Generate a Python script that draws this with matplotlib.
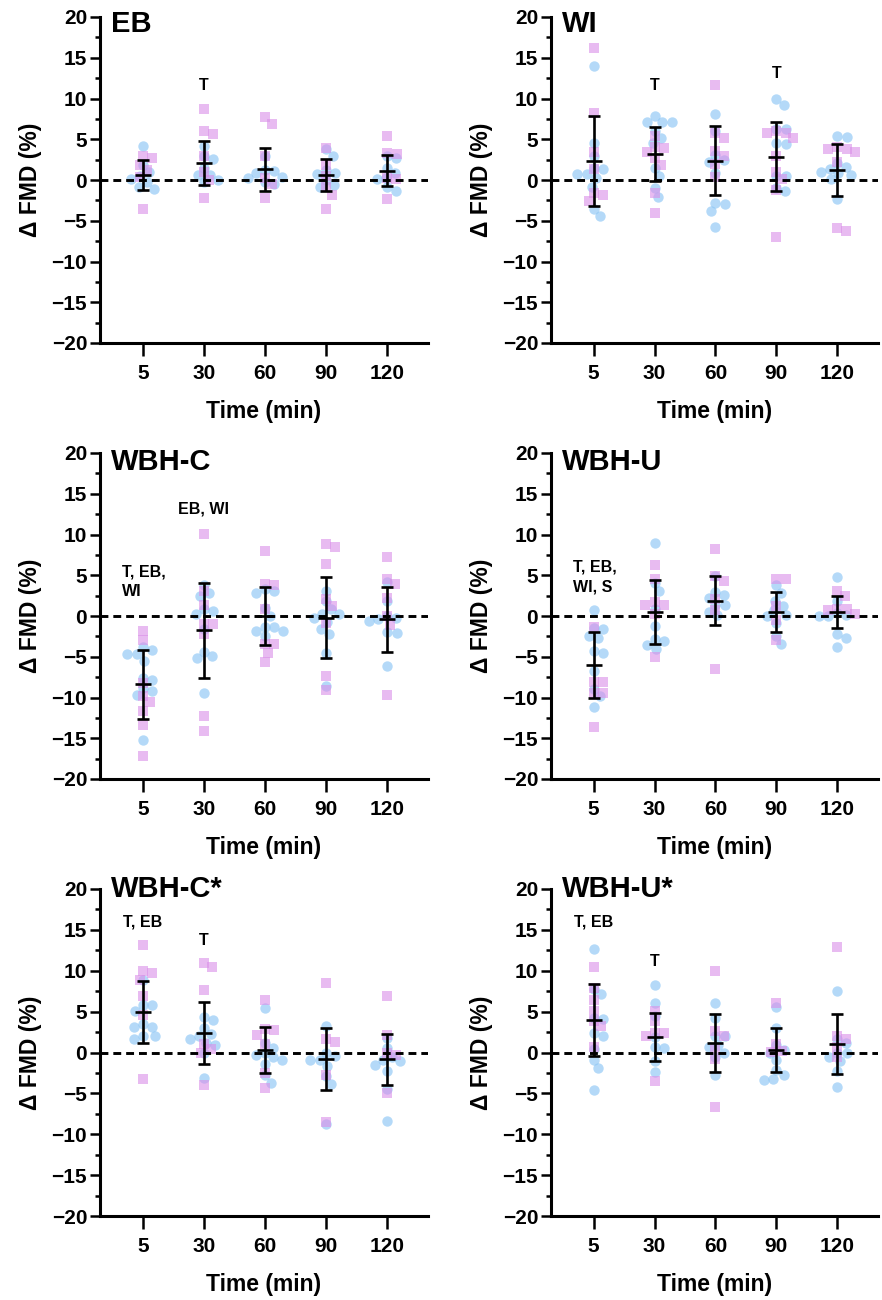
import numpy as np
import matplotlib
matplotlib.use('Agg')
import matplotlib.pyplot as plt
from matplotlib.ticker import MultipleLocator

plt.rcParams['font.family'] = ['Liberation Sans', 'DejaVu Sans']
plt.rcParams['font.weight'] = 'bold'

# time points (categories)
times = ['5', '30', '60', '90', '120']

# panel names
panels = ['EB', 'WI', 'WBH-C', 'WBH-U', 'WBH-C*', 'WBH-U*']

# individual values, blue circles, per time point
eb_circ = [[4.2, 1.9, 1.0, 0.5, 0.1, -0.3, -0.9, -1.1],
           [4.2, 3.0, 2.6, 1.5, 0.6, 0.6, 0.0, -0.3],
           [2.9, 1.2, 1.1, 0.9, 0.4, 0.2, -0.5, -0.3],
           [3.8, 3.0, 1.2, 0.9, 0.7, 0.0, -0.6, -0.9],
           [2.7, 2.9, 1.5, 0.8, 0.3, 0.1, -0.9, -1.3]]
wi_circ = [[14.0, 4.6, 2.9, 1.4, 1.5, 0.7, 0.7, 0.3, -0.8, -3.5, -4.4],
           [7.8, 7.1, 7.1, 7.1, 6.0, 5.2, 4.6, 1.5, 0.5, -1.0, -2.1],
           [8.1, 6.0, 3.1, 2.5, 2.2, 0.9, -2.8, -3.0, -3.8, -5.8],
           [9.9, 9.2, 6.2, 6.2, 4.4, 4.6, 0.5, 0.5, -1.0, -1.3],
           [5.4, 5.3, 2.1, 1.6, 1.4, 1.0, 0.9, 0.6, 0.1, -2.3]]
whc_circ = [[-3.8, -4.2, -4.7, -4.7, -5.5, -7.6, -7.8, -8.8, -9.2, -9.7, -15.2],
            [3.8, 2.8, 2.4, 0.9, 0.6, 0.3, -1.6, -4.4, -4.9, -5.2, -9.4],
            [3.3, 3.1, 2.8, 1.0, 0.0, -1.3, -1.3, -1.8, -1.8, -2.5],
            [3.1, 1.8, 0.8, 0.3, 0.2, -0.3, -0.7, -1.6, -2.2, -4.5, -8.6],
            [4.2, 1.8, 0.0, -0.3, -0.4, -0.6, -2.0, -2.1, -6.1]]
whu_circ = [[0.7, -1.5, -1.6, -2.5, -2.7, -4.3, -4.6, -6.8, -8.9, -9.8, -11.2],
            [9.0, 4.1, 3.1, 0.9, -1.2, -2.8, -3.1, -3.5, -4.0],
            [4.9, 3.0, 2.6, 2.2, 1.3, 1.3, 0.5, 0.1],
            [3.8, 2.8, 1.9, 1.2, 0.7, 0.1, 0.0, -0.8, -2.4, -3.4],
            [4.8, 1.8, 0.4, 0.1, 0.0, 0.0, -2.2, -2.7, -3.8]]
whcs_circ = [[8.9, 5.8, 5.8, 5.1, 3.5, 3.1, 3.1, 2.0, 2.0, 1.6],
             [4.3, 4.0, 3.0, 2.3, 2.0, 1.7, 1.2, 0.9, 0.0, -3.1],
             [5.5, 1.2, 0.6, 0.0, -0.3, -0.6, -0.9, -1.4, -2.8, -3.7],
             [3.2, 0.0, -0.4, -0.9, -0.9, -1.7, -2.9, -3.9, -8.7],
             [1.8, 0.5, -0.5, -0.9, -1.1, -1.5, -2.3, -4.5, -8.4]]
whus_circ = [[12.6, 7.8, 7.1, 4.2, 4.1, 2.4, 2.0, 0.4, -0.9, -1.9, -4.6],
             [8.2, 6.0, 4.5, 1.9, 0.7, 0.5, -1.1, -2.4],
             [6.1, 4.2, 2.0, 2.0, 0.9, 0.7, 0.0, -0.6, -2.8],
             [5.6, 3.0, 0.9, 0.3, 0.0, -0.9, -2.1, -2.7, -3.2, -3.4],
             [7.5, 1.6, 1.2, 0.0, 0.0, -0.5, -1.1, -2.3, -4.2]]

# individual values, pink squares, per time point
eb_sq = [[3.0, 2.7, 1.9, 1.2, 0.4, -3.6],
         [8.7, 6.0, 5.6, 2.9, 1.0, 0.0, -2.2],
         [7.7, 6.9, 3.0, 0.3, -0.5, -2.2],
         [3.9, 1.8, 0.5, -0.9, -1.8, -3.6],
         [5.4, 3.3, 3.2, 0.3, 0.1, -2.3]]
wi_sq = [[16.2, 8.2, 3.4, 1.3, -1.6, -1.8, -2.6],
         [5.4, 4.1, 3.9, 3.4, 2.7, 1.8, -1.6, -4.0],
         [11.6, 5.8, 5.2, 3.6, 3.0, 2.0, 0.4],
         [6.0, 5.8, 5.8, 5.1, 2.9, 1.0, 0.1, -1.2, -7.0],
         [4.0, 3.8, 3.8, 3.4, 2.2, -5.9, -6.3]]
whc_sq = [[-1.8, -3.0, -8.2, -9.8, -10.6, -11.7, -13.4, -17.2],
          [10.1, 3.1, 1.4, -1.0, -1.0, -2.2, -12.3, -14.1],
          [8.0, 3.9, 3.8, 0.8, -3.4, -3.4, -4.5, -5.7],
          [8.8, 8.5, 6.4, 2.1, 1.2, -0.8, -7.4, -9.1],
          [7.3, 4.6, 3.9, 2.2, 0.0, -1.1, -9.7]]
whu_sq = [[-1.4, -8.1, -8.1, -9.4, -9.4, -13.6],
          [6.2, 4.5, 1.7, 1.4, 1.4, 0.2, -5.0],
          [8.2, 4.9, 4.3, 2.1, 0.7, -6.5],
          [4.6, 4.6, 1.2, -0.5, -2.9],
          [3.1, 2.5, 0.9, 0.8, 0.7, 0.3]]
whcs_sq = [[13.2, 10.0, 9.7, 8.9, 6.9, 4.6, -3.3],
           [11.0, 10.5, 7.7, 1.1, 0.4, 0.0, -4.0],
           [6.4, 2.9, 2.8, 2.2, 1.1, -2.5, -4.4],
           [8.5, 1.6, 1.3, -2.8, -8.5],
           [6.9, 2.2, -0.1, -0.3, -4.9]]
whus_sq = [[10.4, 7.9, 6.4, 5.1, 3.9, 3.2, 0.7],
           [5.1, 3.8, 2.4, 2.4, 2.0, -3.5],
           [10.0, 2.6, 2.0, 0.4, -0.8, -6.7],
           [6.1, 1.1, 0.2, 0.1],
           [12.9, 2.0, 1.7, 0.7, -0.5]]

# mean and SD as shown by the error bars
eb_mean = [0.6, 2.1, 1.3, 0.6, 1.15]
eb_sd = [1.83, 2.73, 2.6, 2.0, 1.94]
wi_mean = [2.3, 3.2, 2.35, 2.85, 1.2]
wi_sd = [5.5, 3.3, 4.25, 4.25, 3.2]
whc_mean = [-8.4, -1.75, 0.0, -0.2, -0.4]
whc_sd = [4.2, 5.85, 3.5, 5.0, 4.0]
whu_mean = [-6.0, 0.5, 1.9, 0.45, 0.5]
whu_sd = [4.0, 3.9, 3.0, 2.45, 2.0]
whcs_mean = [5.0, 2.4, 0.3, -0.8, -0.85]
whcs_sd = [3.8, 3.8, 2.8, 3.8, 3.15]
whus_mean = [4.0, 1.9, 1.15, 0.3, 1.05]
whus_sd = [4.4, 2.9, 3.55, 2.7, 3.7]

# significance labels: (time index, y, text, alignment)
eb_notes = [(1, 11.6, 'T', 'center')]
wi_notes = [(1, 11.6, 'T', 'center'), (3, 13.1, 'T', 'center')]
whc_notes = [(1, 13.1, 'EB, WI', 'center'), (-0.34, 4.2, 'T, EB,\nWI', 'left')]
whu_notes = [(-0.34, 4.8, 'T, EB,\nWI, S', 'left')]
whcs_notes = [(0, 16.0, 'T, EB', 'center'), (1, 13.7, 'T', 'center')]
whus_notes = [(0, 16.0, 'T, EB', 'center'), (1, 11.1, 'T', 'center')]

FIG_W, FIG_H = 882, 1300
XLIM = (-0.7, 4.67)
YLIM = (-20, 20)
BLUE = '#8cc6f5'
PINK = '#d98ee8'


def swarm(vals, d, ypx):
    # simple beeswarm: offsets in pixels, smallest free spot next to centre
    vals = np.asarray(vals, dtype=float)
    out = np.zeros(len(vals))
    placed = []
    for i in np.argsort(-vals):
        y = vals[i] * ypx
        cands = [0.0]
        for px, py in placed:
            dy = abs(py - y)
            if dy < d:
                dx = np.sqrt(d * d - dy * dy)
                cands += [px + dx, px - dx]
        cands.sort(key=lambda c: (round(abs(c), 3), -c))
        for c in cands:
            if all((c - px) ** 2 + (y - py) ** 2 >= d * d - 1e-6 for px, py in placed):
                break
        placed.append((c, y))
        out[i] = c
    return out


def draw_panel(ax, name, circ, sq, mean, sd, notes, xpx, ypx, title_y):
    x = np.arange(len(times))
    for k in range(len(times)):
        off = swarm(circ[k], 9.5, ypx) / xpx
        ax.scatter(x[k] + off, circ[k], s=56, marker='o', color=BLUE,
                   alpha=0.65, linewidths=0, zorder=2)
        off = swarm(sq[k], 9.5, ypx) / xpx
        ax.scatter(x[k] + off, sq[k], s=46, marker='s', color=PINK,
                   alpha=0.6, linewidths=0, zorder=2)

    ax.axhline(0, color='black', lw=2.1, dashes=(2.7, 1.7), zorder=3)

    ax.errorbar(x, mean, yerr=sd, fmt='none', ecolor='black', elinewidth=1.9,
                capsize=4.4, capthick=1.9, zorder=5)
    ax.plot(x, mean, ls='none', marker='_', ms=11, mew=1.9, color='black', zorder=5)

    for xi, yi, txt, ha in notes:
        ax.text(xi, yi, txt, ha=ha, va='center', fontsize=11.5,
                fontweight='bold', linespacing=1.45, zorder=6)

    ax.text(-0.52, title_y, name, ha='left', va='baseline', fontsize=21,
            fontweight='bold')

    ax.set_xlim(*XLIM)
    ax.set_ylim(*YLIM)
    ax.set_xticks(x)
    ax.set_xticklabels(times)
    ax.yaxis.set_major_locator(MultipleLocator(5))
    ax.yaxis.set_minor_locator(MultipleLocator(2.5))

    for side in ['top', 'right']:
        ax.spines[side].set_visible(False)
    for side in ['left', 'bottom']:
        ax.spines[side].set_linewidth(2.2)

    ax.tick_params(axis='y', which='major', length=7.2, width=1.8,
                   labelsize=15, pad=2)
    ax.tick_params(axis='y', which='minor', length=3.8, width=1.8)
    ax.tick_params(axis='x', which='major', length=9.4, width=1.8,
                   labelsize=15, pad=6)

    ax.set_ylabel('Δ FMD (%)', fontsize=16.5, fontweight='bold', labelpad=7)
    ax.set_xlabel('Time (min)', fontsize=16.5, fontweight='bold', labelpad=12)


def main():
    fig = plt.figure(figsize=(FIG_W / 100, FIG_H / 100), dpi=100)

    lefts = [100, 551]
    widths = [328, 327]
    tops = [17, 453, 889]
    bottoms = [343, 779, 1216]
    title_ys = [18.1, 17.9, 19.0]

    circs = [eb_circ, wi_circ, whc_circ, whu_circ, whcs_circ, whus_circ]
    sqs = [eb_sq, wi_sq, whc_sq, whu_sq, whcs_sq, whus_sq]
    means = [eb_mean, wi_mean, whc_mean, whu_mean, whcs_mean, whus_mean]
    sds = [eb_sd, wi_sd, whc_sd, whu_sd, whcs_sd, whus_sd]
    notes = [eb_notes, wi_notes, whc_notes, whu_notes, whcs_notes, whus_notes]

    for i in range(6):
        r, c = i // 2, i % 2
        h = bottoms[r] - tops[r]
        rect = [lefts[c] / FIG_W, 1 - bottoms[r] / FIG_H, widths[c] / FIG_W, h / FIG_H]
        ax = fig.add_axes(rect)
        xpx = widths[c] / (XLIM[1] - XLIM[0])
        ypx = h / (YLIM[1] - YLIM[0])
        draw_panel(ax, panels[i], circs[i], sqs[i], means[i], sds[i], notes[i],
                   xpx, ypx, title_ys[r])

    fig.savefig('out.png', dpi=100)


if __name__ == '__main__':
    main()
